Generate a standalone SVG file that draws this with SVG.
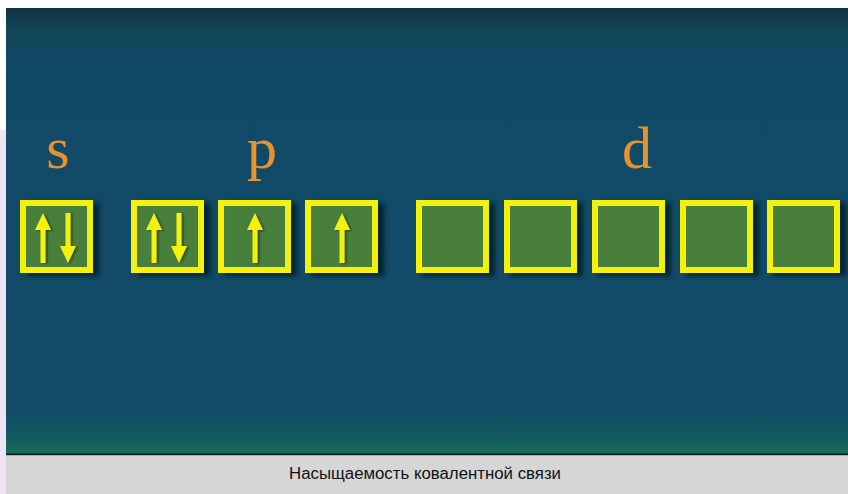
<svg xmlns="http://www.w3.org/2000/svg" width="848" height="494" viewBox="0 0 848 494">
<defs>
<linearGradient id="bg" x1="0" y1="0" x2="0" y2="1">
<stop offset="0" stop-color="#0d3340"/>
<stop offset="0.05" stop-color="#124558"/>
<stop offset="0.12" stop-color="#114a66"/>
<stop offset="0.9" stop-color="#124b66"/>
<stop offset="0.96" stop-color="#135a62"/>
<stop offset="1" stop-color="#187055"/>
</linearGradient>
<filter id="sh" x="-20%" y="-20%" width="150%" height="150%">
<feGaussianBlur in="SourceAlpha" stdDeviation="2.5"/>
<feOffset dx="6" dy="3" result="b"/>
<feFlood flood-color="#06202a" flood-opacity="0.9"/>
<feComposite in2="b" operator="in" result="s"/>
<feMerge><feMergeNode in="s"/><feMergeNode in="SourceGraphic"/></feMerge>
</filter>
<filter id="ash" x="-50%" y="-20%" width="200%" height="150%">
<feGaussianBlur in="SourceAlpha" stdDeviation="1"/>
<feOffset dx="2" dy="1" result="b"/>
<feFlood flood-color="#1f3a14" flood-opacity="0.8"/>
<feComposite in2="b" operator="in" result="s"/>
<feMerge><feMergeNode in="s"/><feMergeNode in="SourceGraphic"/></feMerge>
</filter>
<g id="box">
<rect x="3" y="3" width="67" height="67" fill="#4a7f3e" stroke="#f4f20c" stroke-width="6"/>
</g>
<path id="up" d="M0,0 L8,17 L2.5,17 L2.5,50 L-2.5,50 L-2.5,17 L-8,17 Z" fill="#f4f20c"/>
<path id="down" d="M0,50 L8,33 L2.5,33 L2.5,0 L-2.5,0 L-2.5,33 L-8,33 Z" fill="#f4f20c"/>
</defs>
<style>
.lbl{font-family:"Liberation Serif","Times New Roman",serif;font-size:60px;fill:#e8922e;text-anchor:middle}
.cap{font-family:"Liberation Sans",Arial,sans-serif;font-size:16px;fill:#111;text-anchor:middle}
</style>
<rect width="848" height="494" fill="#ffffff"/>
<rect x="0" y="130" width="6" height="364" fill="#efe4f6"/>
<rect x="6" y="8" width="842" height="447" fill="url(#bg)"/>
<rect x="6" y="453.5" width="842" height="2" fill="#0b1c1c"/>
<rect x="6" y="455.5" width="842" height="38.5" fill="#d6d6d6"/>
<g id="labels">
<text class="lbl" x="58" y="168">s</text>
<text class="lbl" x="262" y="168">p</text>
<text class="lbl" x="637" y="168">d</text>
</g>
<g id="orbital-s" filter="url(#sh)" transform="translate(20,200)">
<use href="#box"/>
<g filter="url(#ash)"><use href="#up" x="23" y="13"/><use href="#down" x="48" y="13"/></g>
</g>
<g id="orbital-p1" filter="url(#sh)" transform="translate(131,200)">
<use href="#box"/>
<g filter="url(#ash)"><use href="#up" x="23" y="13"/><use href="#down" x="48" y="13"/></g>
</g>
<g id="orbital-p2" filter="url(#sh)" transform="translate(218,200)">
<use href="#box"/>
<g filter="url(#ash)"><use href="#up" x="37" y="13"/></g>
</g>
<g id="orbital-p3" filter="url(#sh)" transform="translate(305,200)">
<use href="#box"/>
<g filter="url(#ash)"><use href="#up" x="37" y="13"/></g>
</g>
<g id="orbital-d1" filter="url(#sh)" transform="translate(416,200)"><use href="#box"/></g>
<g id="orbital-d2" filter="url(#sh)" transform="translate(504,200)"><use href="#box"/></g>
<g id="orbital-d3" filter="url(#sh)" transform="translate(592,200)"><use href="#box"/></g>
<g id="orbital-d4" filter="url(#sh)" transform="translate(680,200)"><use href="#box"/></g>
<g id="orbital-d5" filter="url(#sh)" transform="translate(767,200)"><use href="#box"/></g>
<g id="connectors"></g>
<text class="cap" x="425" y="479" textLength="272" lengthAdjust="spacingAndGlyphs">Насыщаемость ковалентной связи</text>
</svg>
